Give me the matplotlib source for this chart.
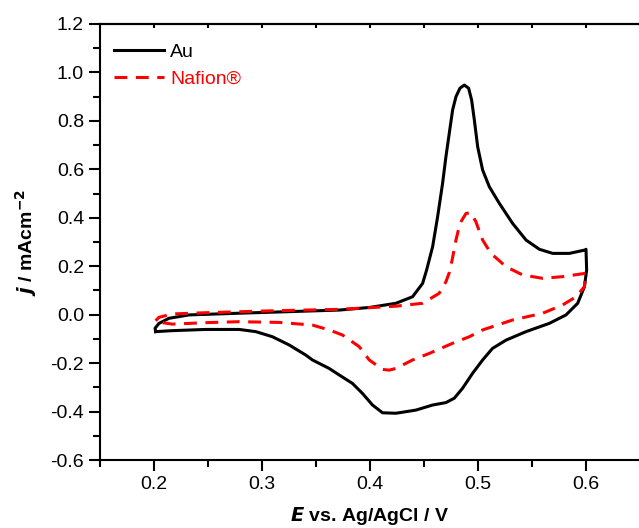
import matplotlib
matplotlib.use("Agg")
import matplotlib.pyplot as plt
from matplotlib.ticker import MultipleLocator

plt.rcParams["font.family"] = ["Liberation Sans", "DejaVu Sans"]

# Au electrode: anodic sweep then cathodic sweep (E / V, j / mA cm^-2)
au_E = [0.2015, 0.201, 0.2046, 0.2139, 0.2324, 0.2788, 0.3715, 0.400, 0.424, 0.4394,
        0.4487, 0.4524, 0.458, 0.4626, 0.4672, 0.4703, 0.4734, 0.4765, 0.4796, 0.4833,
        0.4873, 0.4913, 0.4941, 0.4966, 0.4997, 0.5043, 0.5105, 0.5197, 0.532, 0.5445,
        0.5568, 0.5692, 0.5846, 0.5992, 0.600,
        0.6006, 0.5985, 0.5923, 0.5815, 0.566, 0.5445, 0.526, 0.5135, 0.5043, 0.495,
        0.4857, 0.478, 0.4703, 0.458, 0.4425, 0.424, 0.4116, 0.4023, 0.393, 0.3838,
        0.3715, 0.3622, 0.3467, 0.3406, 0.3251, 0.3096, 0.2942, 0.2788, 0.2479, 0.217,
        0.2015]
au_j = [-0.070, -0.056, -0.036, -0.015, -0.001, 0.006, 0.019, 0.030, 0.047, 0.074,
        0.129, 0.184, 0.281, 0.404, 0.542, 0.652, 0.749, 0.845, 0.900, 0.935,
        0.948, 0.935, 0.886, 0.804, 0.693, 0.597, 0.528, 0.460, 0.377, 0.308,
        0.270, 0.253, 0.253, 0.267, 0.270,
        0.184, 0.115, 0.047, -0.001, -0.036, -0.070, -0.105, -0.139, -0.187, -0.242,
        -0.304, -0.345, -0.363, -0.373, -0.394, -0.407, -0.405, -0.373, -0.325, -0.284,
        -0.249, -0.222, -0.187, -0.167, -0.125, -0.091, -0.070, -0.061, -0.061, -0.066,
        -0.070]

# Nafion-coated electrode
naf_E = [0.2015, 0.2046, 0.217, 0.2479, 0.3096, 0.3715, 0.424, 0.4487, 0.464, 0.4703,
         0.4735, 0.476, 0.4796, 0.4833, 0.4889, 0.4935, 0.498, 0.5043, 0.512, 0.526,
         0.5413, 0.5599, 0.5784, 0.600,
         0.5985, 0.5908, 0.5784, 0.5599, 0.532, 0.5043, 0.492, 0.4765, 0.4549, 0.4394,
         0.424, 0.4178, 0.4116, 0.3993, 0.390, 0.3745, 0.3622, 0.3467, 0.3159, 0.2788,
         0.2479, 0.217, 0.2077, 0.2015]
naf_j = [-0.025, -0.011, 0.003, 0.008, 0.016, 0.022, 0.035, 0.047, 0.088, 0.136,
         0.175, 0.225, 0.308, 0.377, 0.418, 0.421, 0.384, 0.308, 0.253, 0.198,
         0.164, 0.150, 0.157, 0.171,
         0.115, 0.074, 0.040, 0.006, -0.022, -0.063, -0.091, -0.118, -0.160, -0.187,
         -0.222, -0.229, -0.226, -0.187, -0.132, -0.084, -0.063, -0.043, -0.032, -0.029,
         -0.033, -0.039, -0.033, -0.025]

fig = plt.figure(figsize=(6.39, 5.28), dpi=100)
ax = fig.add_axes([100 / 639, 1 - 460 / 528, 540 / 639, 436 / 528])

ax.plot(au_E, au_j, color="black", lw=2.2, label="Au", solid_joinstyle="round")
ax.plot(naf_E, naf_j, color="#ff0000", lw=2.2, ls=(0, (4.2, 2.8)), label="Nafion®")

ax.set_xlim(0.15, 0.65)
ax.set_ylim(-0.6, 1.2)
ax.xaxis.set_major_locator(MultipleLocator(0.1))
ax.xaxis.set_minor_locator(MultipleLocator(0.05))
ax.yaxis.set_major_locator(MultipleLocator(0.2))
ax.yaxis.set_minor_locator(MultipleLocator(0.1))
ax.set_xticks([0.2, 0.3, 0.4, 0.5, 0.6])
ax.set_xticklabels(["0.2", "0.3", "0.4", "0.5", "0.6"])
ax.set_yticklabels([f"{v:.1f}" for v in ax.get_yticks()])

ax.spines["right"].set_visible(False)
for s in ("left", "bottom", "top"):
    ax.spines[s].set_linewidth(1.5)
ax.tick_params(which="major", direction="out", length=8, width=1.5, labelsize=14)
ax.tick_params(which="minor", direction="out", length=5, width=1.5)

# small inward ticks along the top spine
top = ax.secondary_xaxis("top")
top.xaxis.set_major_locator(MultipleLocator(0.05))
top.tick_params(direction="in", length=3, width=1.5, labeltop=False)
top.spines["top"].set_linewidth(1.5)

ax.set_xlabel(r"$\boldsymbol{E}$ vs. Ag/AgCl / V", fontsize=14, fontweight="bold", labelpad=9)
ax.set_ylabel(r"$\boldsymbol{j}$ / mAcm$^{\mathbf{-2}}$", fontsize=14, fontweight="bold", labelpad=8)

leg = ax.legend(loc="upper left", bbox_to_anchor=(0.0, 1 - 6 / 436), frameon=False,
                fontsize=14, handlelength=2.6, handletextpad=0.3, borderaxespad=0.3,
                labelspacing=0.45)
leg.get_texts()[1].set_color("#ff0000")

fig.savefig("out.png", dpi=100)
